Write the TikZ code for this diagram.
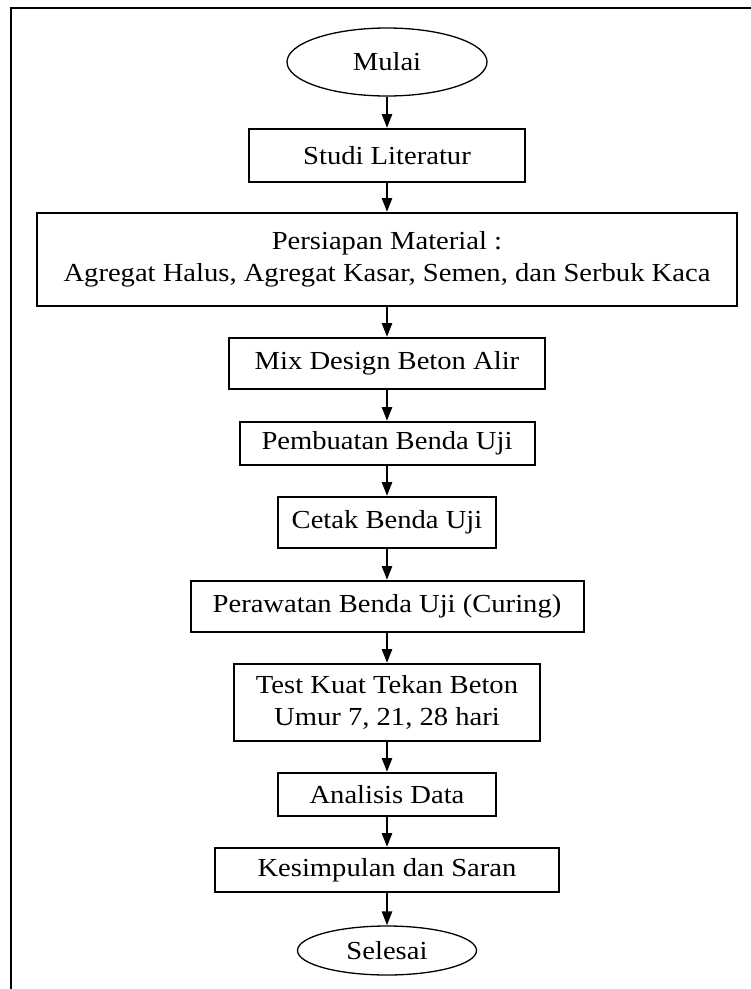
\documentclass[tikz,border=0pt]{standalone}
\usepackage{fontspec}
\setmainfont[FakeStretch=1.1]{Liberation Serif}
\usetikzlibrary{shapes.geometric,arrows.meta}
\begin{document}
\begin{tikzpicture}[x=1pt,y=-1pt,
  txt/.style={font=\fontsize{26}{32}\selectfont},
  box/.style={txt,draw,line width=2pt,inner sep=0pt,align=center},
  term/.style={txt,ellipse,draw,line width=1.3pt,inner sep=0pt},
  arr/.style={line width=2.6pt,-{Triangle[length=14pt,width=10pt]}},
  frame/.style={line width=2.8pt}]
\useasboundingbox (0,0) rectangle (751,989);
\draw[frame] (751,8) -- (11,8) -- (11,989);

\node[term,minimum width=200pt,minimum height=68pt] (mulai) at (387,62) {Mulai};
\node[box,minimum width=276pt,minimum height=53pt] (studi) at (387,155.5) {Studi Literatur};
\node[box,minimum width=700pt,minimum height=93pt] (persiapan) at (387,259.5)
  {Persiapan Material :\\Agregat Halus, Agregat Kasar, Semen, dan Serbuk Kaca};
\node[box,minimum width=316pt,minimum height=51pt] (mix) at (387,363.5) {Mix Design Beton Alir};
\node[box,minimum width=295pt,minimum height=43pt] (buat) at (387,443.5) {Pembuatan Benda Uji};
\node[box,minimum width=218pt,minimum height=51pt] (cetak) at (387,522.5) {Cetak Benda Uji};
\node[box,minimum width=393pt,minimum height=51pt] (rawat) at (387,606.5) {Perawatan Benda Uji (Curing)};
\node[box,minimum width=306pt,minimum height=77pt] (test) at (387,702.5) {Test Kuat Tekan Beton\\Umur 7, 21, 28 hari};
\node[box,minimum width=218pt,minimum height=43pt] (analisis) at (387,794.5) {Analisis Data};
\node[box,minimum width=344pt,minimum height=44pt] (simpul) at (387,870) {Kesimpulan dan Saran};
\node[term,minimum width=179pt,minimum height=49pt] (selesai) at (387,950.5) {Selesai};

\draw[arr] (mulai) -- (studi);
\draw[arr] (studi) -- (persiapan);
\draw[arr] (persiapan) -- (mix);
\draw[arr] (mix) -- (buat);
\draw[arr] (buat) -- (cetak);
\draw[arr] (cetak) -- (rawat);
\draw[arr] (rawat) -- (test);
\draw[arr] (test) -- (analisis);
\draw[arr] (analisis) -- (simpul);
\draw[arr] (simpul) -- (selesai);
\end{tikzpicture}
\end{document}
